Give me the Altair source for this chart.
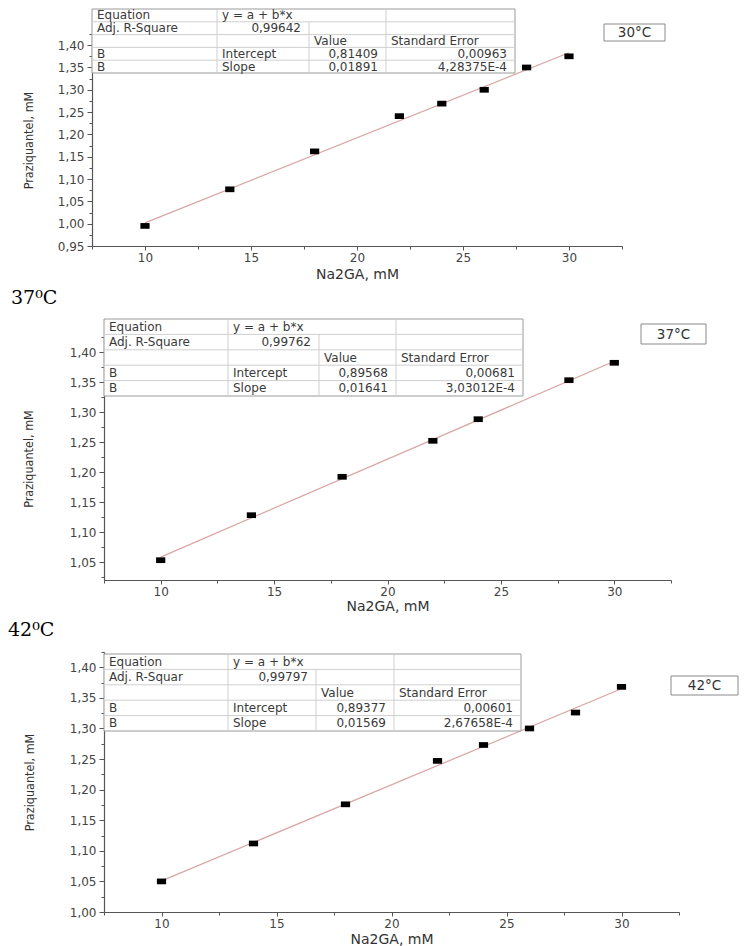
import altair as alt
import pandas as pd

# ---------------- data ----------------
x30 = [10, 14, 18, 22, 24, 26, 28, 30]
y30 = [0.995, 1.077, 1.162, 1.241, 1.269, 1.300, 1.350, 1.375]
x37 = [10, 14, 18, 22, 24, 28, 30]
y37 = [1.053, 1.128, 1.192, 1.252, 1.288, 1.353, 1.382]
x42 = [10, 14, 18, 22, 24, 26, 28, 30]
y42 = [1.050, 1.112, 1.176, 1.247, 1.273, 1.300, 1.326, 1.368]

temp_boxes = ["30°C", "37°C", "42°C"]
side_labels = ["", "37⁰C", "42⁰C"]
adj_labels = ["Adj. R-Square", "Adj. R-Square", "Adj. R-Squar"]
adj_r2 = ["0,99642", "0,99762", "0,99797"]
intercepts = ["0,81409", "0,89568", "0,89377"]
intercept_se = ["0,00963", "0,00681", "0,00601"]
slopes = ["0,01891", "0,01641", "0,01569"]
slope_se = ["4,28375E-4", "3,03012E-4", "2,67658E-4"]

x_ticks = [7.5, 10, 12.5, 15, 17.5, 20, 22.5, 25, 27.5, 30, 32.5]
y_ticks_30 = [0.95, 0.975, 1.0, 1.025, 1.05, 1.075, 1.1, 1.125, 1.15, 1.175,
              1.2, 1.225, 1.25, 1.275, 1.3, 1.325, 1.35, 1.375, 1.4, 1.425]
y_ticks_37 = [1.025, 1.05, 1.075, 1.1, 1.125, 1.15, 1.175, 1.2, 1.225, 1.25,
              1.275, 1.3, 1.325, 1.35, 1.375, 1.4, 1.425]
y_ticks_42 = [1.0, 1.025, 1.05, 1.075, 1.1, 1.125, 1.15, 1.175, 1.2, 1.225,
              1.25, 1.275, 1.3, 1.325, 1.35, 1.375, 1.4, 1.425]

SANS = "DejaVu Sans"
NARROW = "Liberation Sans Narrow, DejaVu Sans Condensed, Liberation Sans"
SERIF = "DejaVu Serif"
dummy = pd.DataFrame({"d": [0]})

MAJOR_Y = "abs(datum.value*20 - round(datum.value*20)) < 0.001"


def table_layers(i, left, right, top, bottom, cols):
    base = alt.Chart(dummy)
    layers = [base.mark_rect(fill="white", stroke="#9a9a9a", strokeWidth=1).encode(
        x=alt.value(left), x2=alt.value(right), y=alt.value(top), y2=alt.value(bottom))]
    rh = (bottom - top) / 5.0
    for r in range(1, 5):
        layers.append(base.mark_rule(color="#cfcfcf", strokeWidth=1).encode(
            x=alt.value(left), x2=alt.value(right), y=alt.value(top + r * rh)))
    for j, c in enumerate(cols[1:-1]):
        start = top + rh if j == 1 else top
        layers.append(base.mark_rule(color="#cfcfcf", strokeWidth=1).encode(
            x=alt.value(c), y=alt.value(start), y2=alt.value(bottom)))
    cells = [
        (0, 0, "Equation", "left"), (0, 1, "y = a + b*x", "left"),
        (1, 0, adj_labels[i], "left"), (1, 1, adj_r2[i], "right"),
        (2, 2, "Value", "left"), (2, 3, "Standard Error", "left"),
        (3, 0, "B", "left"), (3, 1, "Intercept", "left"),
        (3, 2, intercepts[i], "right"), (3, 3, intercept_se[i], "right"),
        (4, 0, "B", "left"), (4, 1, "Slope", "left"),
        (4, 2, slopes[i], "right"), (4, 3, slope_se[i], "right"),
    ]
    for r, c, s, al in cells:
        px = cols[c] + 5 if al == "left" else cols[c + 1] - 8
        py = top + (r + 0.5) * rh
        layers.append(base.mark_text(align=al, baseline="middle", font=SANS,
                                     fontSize=12, color="#3a3a3a").encode(
            x=alt.value(px), y=alt.value(py), text=alt.value(s)))
    return layers


def panel(i, xs, ys, w, h, xrange, yoffset, ydom, yticks, tbl, box, side_pos, title_pad, xt_pad):
    df = pd.DataFrame({"x": xs, "y": ys})
    xenc = alt.X("x:Q", scale=alt.Scale(domain=[7.5, 32.5], nice=False, zero=False, range=xrange),
                 axis=alt.Axis(title="Na2GA, mM", values=x_ticks, tickCount=100, grid=False,
                               labelOverlap=False,
                               labelExpr="datum.value % 5 == 0 ? format(datum.value, 'd') : ''",
                               tickSize={"condition": {"test": "datum.value % 5 == 0", "value": 4}, "value": 3},
                               labelPadding=2, titlePadding=xt_pad, titleFontSize=14, titleFont=SANS))
    yenc = alt.Y("y:Q", scale=alt.Scale(domain=ydom, nice=False, zero=False),
                 axis=alt.Axis(title="Praziquantel, mM", values=yticks, tickCount=100, grid=False,
                               labelOverlap=False, offset=yoffset,
                               labelExpr=MAJOR_Y + " ? replace(format(datum.value, '.2f'), '.', ',') : ''",
                               tickSize={"condition": {"test": MAJOR_Y, "value": 5}, "value": 3},
                               titlePadding=title_pad, titleFontSize=12.5, titleFont=NARROW))
    base = alt.Chart(df)
    fit = base.transform_regression("x", "y").mark_line(color="#d9a3a3", strokeWidth=1.2).encode(x=xenc, y=yenc)
    pts = base.mark_point(shape="M-1,-0.62L1,-0.62L1,0.62L-1,0.62Z", filled=True, color="black",
                          opacity=1, size=85).encode(x="x:Q", y="y:Q")
    layers = [fit, pts]
    layers += table_layers(i, *tbl)
    b = alt.Chart(dummy)
    bx0, bx1, by0, by1 = box
    layers.append(b.mark_rect(fill="white", stroke="#8a8a8a", strokeWidth=1).encode(
        x=alt.value(bx0), x2=alt.value(bx1), y=alt.value(by0), y2=alt.value(by1)))
    layers.append(b.mark_text(align="center", baseline="middle", font=SANS, fontSize=13.5,
                              color="#333").encode(
        x=alt.value((bx0 + bx1) / 2), y=alt.value((by0 + by1) / 2 + 0.5), text=alt.value(temp_boxes[i])))
    if side_labels[i]:
        layers.append(b.mark_text(align="left", baseline="middle", font=SERIF, fontSize=19,
                                  color="black").encode(
            x=alt.value(side_pos[0]), y=alt.value(side_pos[1]), text=alt.value(side_labels[i])))
    return alt.layer(*layers).properties(width=w, height=h)


# panel 1 is drawn 12 px further left than panels 2 and 3 (shifted scale range + axis offset)
p1 = panel(0, x30, y30, 518, 212, [-12, 518], 12, [0.95, 1.425], y_ticks_30,
           (-12, 411, -25, 39, [-12, 113, 205, 282, 411]),
           (500, 561, -10, 7), (0, 0), 22, 4)
p2 = panel(1, x37, y37, 567, 243, [0, 567], 0, [1.02, 1.425], y_ticks_37,
           (0, 419, -18, 59, [0, 124, 215, 292, 419]),
           (537, 602, -13, 7), (-93, -39), 34, 2)
p3 = panel(2, x42, y42, 575, 260, [0, 575], 0, [1.0, 1.425], y_ticks_42,
           (0, 417, 2, 79, [0, 124, 212, 290, 417]),
           (567, 634, 24, 43), (-96, -22), 33, 3)

chart = alt.vconcat(p1, p2, p3, spacing=8).properties(
    padding={"left": 0, "top": 0, "right": 0, "bottom": 0}
).configure_view(stroke=None).configure_axis(
    domainColor="#555555", tickColor="#555555", labelColor="#444444",
    labelFont=SANS, labelFontSize=12, titleColor="#333333", titleFontWeight="normal",
    labelOverlap=False, labelFlush=False, labelPadding=3, domainWidth=1.2
)

chart.save("out.html", embed_options={"renderer": "svg", "actions": False})
